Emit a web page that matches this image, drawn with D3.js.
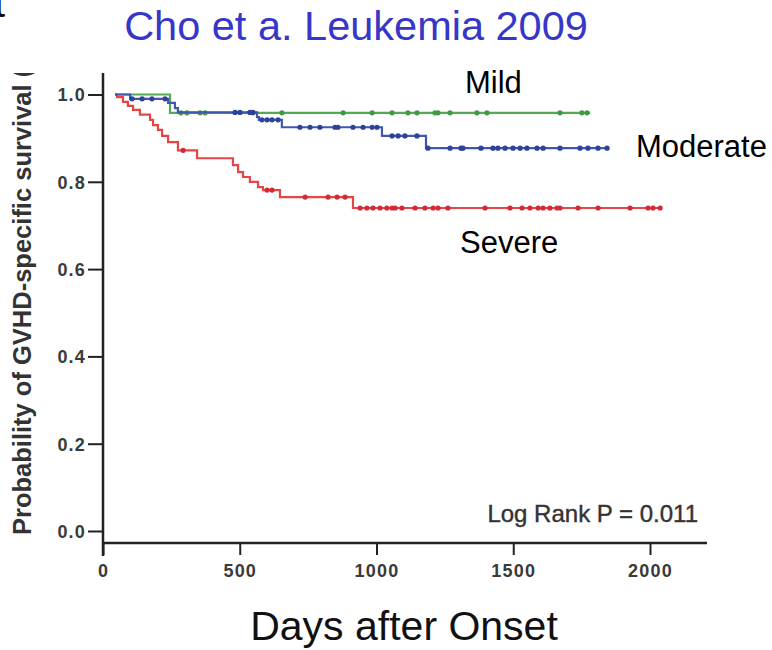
<!DOCTYPE html>
<html lang="en">
<head>
<meta charset="utf-8"/>
<style>
	body{margin:0;background:#fff}
	svg{display:block;font-family:"Liberation Sans",Arial,sans-serif}
</style>
</head>
<body>
<svg id="chart" width="772" height="650"></svg>
<script src="https://d3js.org/d3.v7.min.js"></script>
<script>
	// tick labels
	let xTicks = [0, 500, 1000, 1500, 2000]
	let yTicks = [0, 0.2, 0.4, 0.6, 0.8, 1.0]

	let groups = ["Mild", "Moderate", "Severe"]

	// Kaplan-Meier steps as [day, survival]
	let mildSteps = [[44, 1.0], [245, 0.958]]
	let mildEnd = 1781
	let mildCensored = [285, 307, 355, 373, 548, 654, 878, 984, 1057, 1115, 1148, 1214, 1225, 1269, 1367, 1404, 1671, 1751, 1770]

	let moderateSteps = [[44, 1.0], [99, 0.990], [238, 0.981], [263, 0.969], [274, 0.959], [563, 0.948], [570, 0.942], [654, 0.925], [1020, 0.905], [1181, 0.877]]
	let moderateEnd = 1846
	let moderateCensored = [106, 143, 179, 227, 483, 501, 537, 548, 581, 600, 618, 640, 720, 757, 793, 848, 859, 914, 951, 984, 1002, 1057, 1079, 1104, 1148, 1188, 1269, 1309, 1316, 1382, 1426, 1444, 1470, 1499, 1525, 1550, 1587, 1609, 1671, 1744, 1773, 1810, 1843]

	let severeSteps = [[44, 1.0], [51, 0.994], [73, 0.983], [91, 0.974], [110, 0.965], [135, 0.954], [172, 0.942], [183, 0.930], [201, 0.919], [216, 0.905], [238, 0.891], [274, 0.872], [344, 0.854], [475, 0.838], [494, 0.822], [512, 0.811], [537, 0.800], [567, 0.788], [585, 0.781], [647, 0.765], [914, 0.740]]
	let severeEnd = 2044
	let severeCensored = [293, 600, 618, 739, 823, 856, 885, 940, 965, 987, 1013, 1038, 1057, 1068, 1093, 1141, 1177, 1207, 1225, 1261, 1397, 1488, 1532, 1561, 1591, 1609, 1634, 1660, 1671, 1737, 1810, 1927, 1993, 2011, 2037]

	let svg = d3.select("#chart")

	let xScale = d3.scaleLinear().domain([0, 2000]).range([103, 650])
	let yScale = d3.scaleLinear().domain([0, 1]).range([531, 94.5])
	let axisY = 543

	// stray letter from the slide heading above
	svg.append("text").attr("x", -6).attr("y", 17).style("font-size", "40px").text("t")

	svg.append("text")
		.attr("x", 356).attr("y", 40)
		.attr("text-anchor", "middle")
		.style("font-size", "41.5px").style("fill", "#3636c8")
		.text("Cho et a. Leukemia 2009")

	function styleTicks(g) {
		g.selectAll(".tick text")
			.style("font-family", "'Liberation Sans', Arial, sans-serif")
			.style("font-size", "18px").style("font-weight", "bold")
			.style("fill", "#3a3a3a").style("letter-spacing", "1.2px")
		g.selectAll(".tick line").style("stroke", "#222").style("stroke-width", 2)
	}

	// y axis
	let yAxis = svg.append("g")
		.attr("transform", "translate(103,0)")
		.call(d3.axisLeft(yScale).tickValues(yTicks).tickFormat(d3.format(".1f")).tickSize(15).tickPadding(2).tickSizeOuter(0))
	yAxis.select(".domain").remove()
	yAxis.selectAll(".tick text").attr("dy", "0.36em")
	styleTicks(yAxis)
	svg.append("line").attr("x1", 103).attr("x2", 103).attr("y1", 73).attr("y2", 556)
		.style("stroke", "#222").style("stroke-width", 2.5)

	// x axis
	let xAxis = svg.append("g")
		.attr("transform", "translate(0," + axisY + ")")
		.call(d3.axisBottom(xScale).tickValues(xTicks).tickFormat(d3.format("d")).tickSize(12).tickPadding(9).tickSizeOuter(0))
	xAxis.select(".domain").remove()
	styleTicks(xAxis)
	svg.append("line").attr("x1", 103).attr("x2", 707).attr("y1", axisY).attr("y2", axisY)
		.style("stroke", "#222").style("stroke-width", 2.5)

	// y title, cut at the top like the source
	svg.append("clipPath").attr("id", "ycut").append("rect")
		.attr("x", 0).attr("y", 73).attr("width", 60).attr("height", 500)
	svg.append("g")
		.attr("clip-path", "url(#ycut)")
		.append("text")
		.attr("transform", "translate(31,535) rotate(-90)")
		.style("font-size", "25.5px").style("font-weight", "bold").style("fill", "#333")
		.text("Probability of GVHD-specific survival (")

	function survAt(steps, t) {
		let s = steps[0][1]
		steps.forEach(d => { if (d[0] <= t) s = d[1] })
		return s
	}

	let series = [
		{ name: groups[0], steps: mildSteps, end: mildEnd, cens: mildCensored, color: "#52aa52", dot: "#3f9a45" },
		{ name: groups[2], steps: severeSteps, end: severeEnd, cens: severeCensored, color: "#e64545", dot: "#d42a35" },
		{ name: groups[1], steps: moderateSteps, end: moderateEnd, cens: moderateCensored, color: "#4157ab", dot: "#2d4399" }
	]

	let line = d3.line()
		.x(d => xScale(d[0]))
		.y(d => yScale(d[1]))
		.curve(d3.curveStepAfter)

	series.forEach(s => {
		let pts = s.steps.concat([[s.end, s.steps[s.steps.length - 1][1]]])
		svg.append("path")
			.attr("d", line(pts))
			.style("fill", "none")
			.style("stroke", s.color)
			.style("stroke-width", 2.2)
		svg.selectAll(null)
			.data(s.cens)
			.enter()
			.append("circle")
			.attr("cx", d => xScale(d))
			.attr("cy", d => yScale(survAt(s.steps, d)))
			.attr("r", 2.6)
			.style("fill", s.dot)
	})

	// group labels
	svg.append("text").attr("x", 465).attr("y", 93).style("font-size", "31px").text(groups[0])
	svg.append("text").attr("x", 636).attr("y", 157).style("font-size", "31px").text(groups[1])
	svg.append("text").attr("x", 460).attr("y", 253).style("font-size", "31px").text(groups[2])

	svg.append("text")
		.attr("x", 698).attr("y", 522)
		.attr("text-anchor", "end")
		.style("font-size", "24px").style("fill", "#333").style("stroke", "#333").style("stroke-width", 0.4)
		.text("Log Rank P = 0.011")

	svg.append("text")
		.attr("x", 404).attr("y", 640)
		.attr("text-anchor", "middle")
		.style("font-size", "41px").style("fill", "#111")
		.text("Days after Onset")
</script>
</body>
</html>
